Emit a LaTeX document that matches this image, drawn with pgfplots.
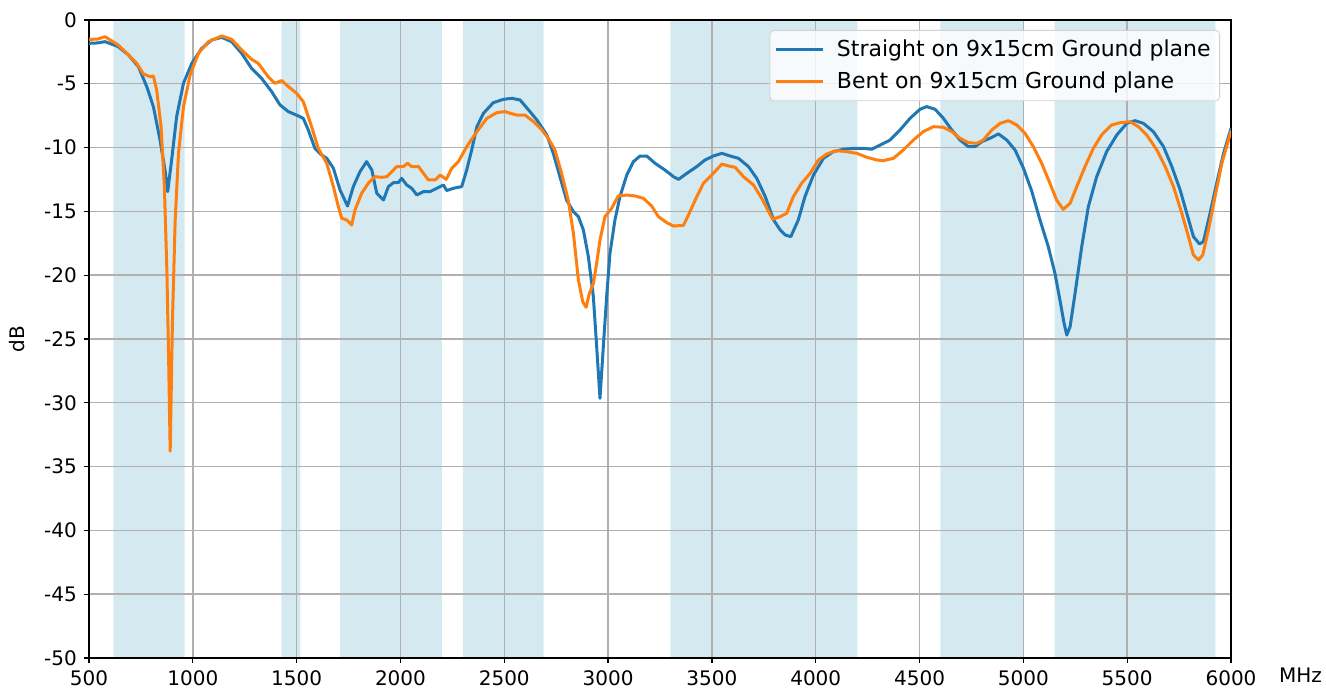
\documentclass[border=0pt]{standalone}
\usepackage{pgfplots}
\pgfplotsset{compat=1.18}
\usepackage{fontspec}
\setmainfont{DejaVu Sans}
\definecolor{tabblue}{HTML}{1F77B4}
\definecolor{taborange}{HTML}{FF7F0E}
\definecolor{bandcol}{RGB}{213,233,241}
\definecolor{gridcol}{HTML}{B0B0B0}
\begin{document}
\begin{tikzpicture}
\begin{axis}[
  set layers,
  scale only axis,
  width=571pt, height=319pt,
  xmin=500, xmax=6000, ymin=-50, ymax=0,
  xtick={500,1000,...,6000},
  xticklabels={500,1000,1500,2000,2500,3000,3500,4000,4500,5000,5500,6000},
  ytick={-50,-45,...,0},
  yticklabels={-50,-45,-40,-35,-30,-25,-20,-15,-10,-5,0},
  tick align=outside,
  xtick pos=lower, ytick pos=left,
  major tick length=2.6pt,
  tick style={black, line width=0.6pt},
  ticklabel style={font=\fontsize{10}{12}\selectfont},
  grid=major,
  grid style={gridcol, line width=0.7pt},
  axis line style={black, line width=0.7pt},
  xlabel={MHz},
  xlabel style={at={(rel axis cs:1,0)}, anchor=base west, xshift=20.5pt, yshift=-12.5pt, font=\fontsize{10}{12}\selectfont},
  ylabel={dB},
  ylabel style={at={(axis description cs:-0.063,0.5)}, anchor=center, font=\fontsize{10}{12}\selectfont},
  legend cell align=left,
  legend image code/.code={\draw[#1] (0pt,0pt) -- (23.5pt,0pt);},
  legend style={at={(rel axis cs:1,1)}, anchor=north east, xshift=-5.5pt, yshift=-5pt,
    draw=black!18, rounded corners=2pt, fill=white, fill opacity=0.8, text opacity=1,
    font=\fontsize{11}{13}\selectfont, inner xsep=2.5pt, inner ysep=2.5pt,
    row sep=2.5pt,
    /tikz/every odd column/.append style={column sep=4pt},
    /tikz/every even column/.append style={column sep=3pt}},
]
% frequency bands
\addplot[draw=none, fill=bandcol, on layer=axis background, forget plot] coordinates {(617,-50)(960,-50)(960,0)(617,0)} \closedcycle;
\addplot[draw=none, fill=bandcol, on layer=axis background, forget plot] coordinates {(1427,-50)(1518,-50)(1518,0)(1427,0)} \closedcycle;
\addplot[draw=none, fill=bandcol, on layer=axis background, forget plot] coordinates {(1710,-50)(2200,-50)(2200,0)(1710,0)} \closedcycle;
\addplot[draw=none, fill=bandcol, on layer=axis background, forget plot] coordinates {(2300,-50)(2690,-50)(2690,0)(2300,0)} \closedcycle;
\addplot[draw=none, fill=bandcol, on layer=axis background, forget plot] coordinates {(3300,-50)(4200,-50)(4200,0)(3300,0)} \closedcycle;
\addplot[draw=none, fill=bandcol, on layer=axis background, forget plot] coordinates {(4600,-50)(5000,-50)(5000,0)(4600,0)} \closedcycle;
\addplot[draw=none, fill=bandcol, on layer=axis background, forget plot] coordinates {(5150,-50)(5925,-50)(5925,0)(5150,0)} \closedcycle;
% Straight
\addplot[tabblue, line width=1.5pt, line join=round] coordinates {
(500,-1.83)(540,-1.8)(577,-1.70)(641,-2.09)(690,-2.74)(738,-3.66)(778,-5.22)(810,-6.79)(842,-9.40)(866,-11.76)(879,-13.45)(898,-10.97)(922,-7.58)(955,-4.96)(995,-3.40)(1043,-2.22)(1091,-1.57)(1139,-1.36)(1187,-1.70)(1235,-2.61)(1283,-3.79)(1331,-4.57)(1380,-5.62)(1420,-6.66)(1460,-7.18)(1508,-7.52)(1532,-7.71)(1556,-8.62)(1588,-10.06)(1620,-10.58)(1645,-10.84)(1677,-11.62)(1709,-13.32)(1745,-14.58)(1773,-13.06)(1805,-11.89)(1837,-11.10)(1862,-11.76)(1886,-13.58)(1918,-14.11)(1942,-13.06)(1966,-12.75)(1990,-12.75)(2006,-12.41)(2030,-12.93)(2054,-13.19)(2079,-13.71)(2111,-13.45)(2143,-13.45)(2175,-13.19)(2207,-12.93)(2223,-13.37)(2255,-13.19)(2295,-13.06)(2319,-11.76)(2343,-10.19)(2368,-8.36)(2400,-7.31)(2447,-6.48)(2496,-6.22)(2536,-6.14)(2576,-6.27)(2617,-7.05)(2657,-7.84)(2705,-9.01)(2736,-10.45)(2768,-12.28)(2800,-14.11)(2833,-15.02)(2857,-15.41)(2881,-16.46)(2905,-18.55)(2929,-21.68)(2945,-25.6)(2961,-29.65)(2977,-25.6)(2993,-21.68)(3009,-18.29)(3033,-15.67)(3057,-13.85)(3090,-12.15)(3122,-11.10)(3154,-10.66)(3186,-10.66)(3226,-11.23)(3274,-11.76)(3315,-12.28)(3339,-12.49)(3379,-12.02)(3427,-11.49)(3467,-10.97)(3507,-10.66)(3548,-10.45)(3588,-10.66)(3628,-10.84)(3676,-11.49)(3716,-12.41)(3757,-13.85)(3797,-15.67)(3829,-16.46)(3853,-16.85)(3880,-16.98)(3916,-15.67)(3948,-13.85)(3989,-12.15)(4037,-10.84)(4085,-10.32)(4133,-10.13)(4181,-10.06)(4230,-10.06)(4270,-10.13)(4310,-9.80)(4358,-9.41)(4406,-8.62)(4454,-7.71)(4502,-7.00)(4534,-6.79)(4575,-7.00)(4615,-7.71)(4655,-8.62)(4695,-9.41)(4735,-9.93)(4767,-9.93)(4799,-9.54)(4839,-9.27)(4880,-8.93)(4920,-9.41)(4960,-10.19)(5000,-11.6)(5040,-13.4)(5080,-15.67)(5120,-17.76)(5152,-19.85)(5176,-21.94)(5196,-23.77)(5209,-24.69)(5225,-24.04)(5249,-21.42)(5281,-17.76)(5313,-14.63)(5353,-12.28)(5401,-10.32)(5450,-9.01)(5498,-8.10)(5538,-7.89)(5578,-8.10)(5626,-8.75)(5675,-9.93)(5715,-11.49)(5755,-13.32)(5787,-15.15)(5819,-16.98)(5848,-17.55)(5867,-17.37)(5899,-15.15)(5931,-12.80)(5964,-10.45)(6000,-8.5)
};
\addlegendentry{Straight on 9x15cm Ground plane}
% Bent
\addplot[taborange, line width=1.5pt, line join=round] coordinates {
(500,-1.52)(540,-1.5)(577,-1.31)(641,-1.96)(690,-2.74)(730,-3.40)(762,-4.23)(794,-4.44)(810,-4.39)(826,-5.49)(847,-8.36)(863,-13.06)(875,-19.6)(883,-26.1)(891,-33.8)(902,-23.5)(915,-15.7)(931,-10.45)(955,-6.79)(987,-4.31)(1027,-2.61)(1075,-1.70)(1139,-1.25)(1187,-1.52)(1235,-2.35)(1283,-3.08)(1315,-3.40)(1363,-4.44)(1395,-4.96)(1428,-4.75)(1460,-5.22)(1500,-5.75)(1532,-6.40)(1572,-8.36)(1604,-10.06)(1645,-11.23)(1677,-13.06)(1701,-14.63)(1717,-15.54)(1741,-15.67)(1765,-16.07)(1781,-14.89)(1813,-13.58)(1845,-12.80)(1877,-12.28)(1910,-12.33)(1934,-12.28)(1958,-11.89)(1982,-11.49)(2014,-11.49)(2034,-11.23)(2054,-11.49)(2087,-11.49)(2111,-12.02)(2135,-12.54)(2167,-12.54)(2191,-12.15)(2220,-12.49)(2247,-11.62)(2279,-11.10)(2319,-9.93)(2368,-8.75)(2416,-7.71)(2464,-7.26)(2504,-7.18)(2528,-7.31)(2560,-7.45)(2600,-7.45)(2641,-7.97)(2681,-8.62)(2712,-9.27)(2744,-10.19)(2776,-12.02)(2808,-14.11)(2833,-16.72)(2857,-20.38)(2878,-22.08)(2894,-22.52)(2910,-21.42)(2929,-20.64)(2945,-19.07)(2961,-17.24)(2985,-15.41)(3017,-14.76)(3049,-13.79)(3090,-13.72)(3130,-13.79)(3170,-13.98)(3210,-14.58)(3242,-15.41)(3282,-15.88)(3315,-16.15)(3363,-16.09)(3387,-15.28)(3427,-13.85)(3459,-12.80)(3499,-12.15)(3548,-11.29)(3580,-11.44)(3612,-11.55)(3652,-12.28)(3700,-12.93)(3740,-13.98)(3773,-15.02)(3793,-15.62)(3829,-15.41)(3860,-15.15)(3892,-13.85)(3932,-12.80)(3973,-12.02)(4013,-10.97)(4053,-10.50)(4101,-10.24)(4149,-10.32)(4198,-10.45)(4246,-10.76)(4294,-10.97)(4326,-11.02)(4374,-10.84)(4422,-10.19)(4470,-9.41)(4518,-8.75)(4567,-8.36)(4615,-8.41)(4655,-8.75)(4695,-9.27)(4735,-9.61)(4775,-9.67)(4807,-9.41)(4848,-8.62)(4888,-8.10)(4928,-7.89)(4968,-8.23)(5008,-8.88)(5048,-9.93)(5088,-11.23)(5128,-12.80)(5160,-14.11)(5192,-14.84)(5225,-14.37)(5257,-13.06)(5297,-11.49)(5337,-10.06)(5377,-9.01)(5425,-8.23)(5466,-8.05)(5514,-7.97)(5554,-8.36)(5594,-9.01)(5643,-10.19)(5683,-11.49)(5723,-13.06)(5763,-15.15)(5795,-16.98)(5819,-18.42)(5843,-18.81)(5864,-18.42)(5891,-16.46)(5923,-13.85)(5956,-11.23)(6000,-8.7)
};
\addlegendentry{Bent on 9x15cm Ground plane}
\end{axis}
\pgfresetboundingbox
\path[use as bounding box] ([xshift=-44.5pt,yshift=-18.5pt]current axis.south west) rectangle ([xshift=47.5pt,yshift=10pt]current axis.north east);
\end{tikzpicture}
\end{document}
